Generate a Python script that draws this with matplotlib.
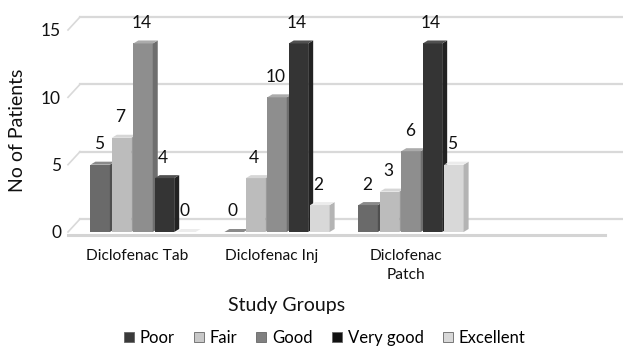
import numpy as np
import matplotlib.pyplot as plt
from matplotlib.patches import Polygon
from matplotlib.lines import Line2D

plt.rcParams['font.family'] = ['Lato', 'DejaVu Sans']

groups = ['Diclofenac Tab', 'Diclofenac Inj', 'Diclofenac\nPatch']
ratings = ['Poor', 'Fair', 'Good', 'Very good', 'Excellent']
poor = [5, 0, 2]
fair = [7, 4, 3]
good = [14, 10, 6]
very_good = [4, 14, 14]
excellent = [0, 2, 5]
series = [poor, fair, good, very_good, excellent]

face = ['#6a6a6a', '#bcbcbc', '#8e8e8e', '#343434', '#d8d8d8']
side = ['#4f4f4f', '#9a9a9a', '#6e6e6e', '#222222', '#b4b4b4']
top = ['#8a8a8a', '#d6d6d6', '#ababab', '#505050', '#ececec']
legend_col = ['#3a3a3a', '#c8c8c8', '#808080', '#111111', '#d8d8d8']
txt = '#111111'

fig = plt.figure(figsize=(6.23, 3.49), dpi=100)
ax = fig.add_axes([68 / 623, 1 - 232 / 349, (612 - 68) / 623, (232 - 30) / 349])
ax.set_xlim(-0.06, 4.0)
ax.set_ylim(0, 15)
for s in ax.spines.values():
    s.set_visible(False)

# pixel -> data unit conversion for the fake depth
p0 = ax.transData.transform((0, 0))
p1 = ax.transData.transform((1, 1))
ux, uy = p1 - p0


def px(dx, dy):
    return dx / ux, dy / uy


# back wall gridlines and floor
gdx, gdy = px(12, 13)
for v in [0, 5, 10, 15]:
    ax.plot([-0.06 + gdx, 4.0 + gdx], [v + gdy, v + gdy], color='#d9d9d9',
            lw=1.6, clip_on=False, zorder=1)
    ax.plot([-0.06, -0.06 + gdx], [v, v + gdy], color='#d9d9d9',
            lw=1.2, clip_on=False, zorder=1)
fdx, fdy = px(0, -3)
ax.plot([-0.06, 3.95], [fdy, fdy], color='#d4d4d4', lw=2.2, clip_on=False, zorder=1)

slot = np.arange(len(groups)) + 0.5
w = 0.145
sdx, sdy = px(5, 3)
for k, vals in enumerate(series):
    xs = slot + (k - 2) * 0.16
    ax.bar(xs, vals, width=w, color=face[k], zorder=3 + k * 0.01)
    for x, v in zip(xs, vals):
        l, r = x - w / 2, x + w / 2
        ax.add_patch(Polygon([(r, 0), (r + sdx, sdy), (r + sdx, v + sdy), (r, v)],
                             closed=True, fc=side[k], ec='none', zorder=3 + k * 0.01))
        ax.add_patch(Polygon([(l, v), (r, v), (r + sdx, v + sdy), (l + sdx, v + sdy)],
                             closed=True, fc=top[k], ec='none', zorder=3 + k * 0.01))
        ax.annotate(str(v), (x, v), xytext=(-1, 9), textcoords='offset points',
                    ha='center', va='bottom', fontsize=12.5, color=txt,
                    zorder=10)

ax.set_yticks([0, 5, 10, 15])
ax.tick_params(axis='y', length=0, pad=5, labelsize=12.5, labelcolor=txt)
ax.set_xticks(slot - 0.04)
ax.set_xticklabels(groups, fontsize=11.2, color=txt, linespacing=1.45)
ax.tick_params(axis='x', length=0, pad=12)

fig.text(18 / 623, 1 - 130 / 349, 'No of Patients', rotation=90, ha='center',
         va='center', fontsize=14, color=txt)
fig.text(287 / 623, 1 - 306 / 349, 'Study Groups', ha='center', va='center',
         fontsize=14, color=txt)

handles = [Line2D([], [], marker='s', ls='none', ms=6.5, mfc=c, mec='#666666', mew=0.6)
           for c in legend_col]
fig.legend(handles, ratings, loc='center', bbox_to_anchor=(324 / 623, 11 / 349),
           ncol=5, frameon=False, handlelength=0.7, handletextpad=0.3,
           columnspacing=1.1, fontsize=12)

fig.savefig('out.png', dpi=100)
